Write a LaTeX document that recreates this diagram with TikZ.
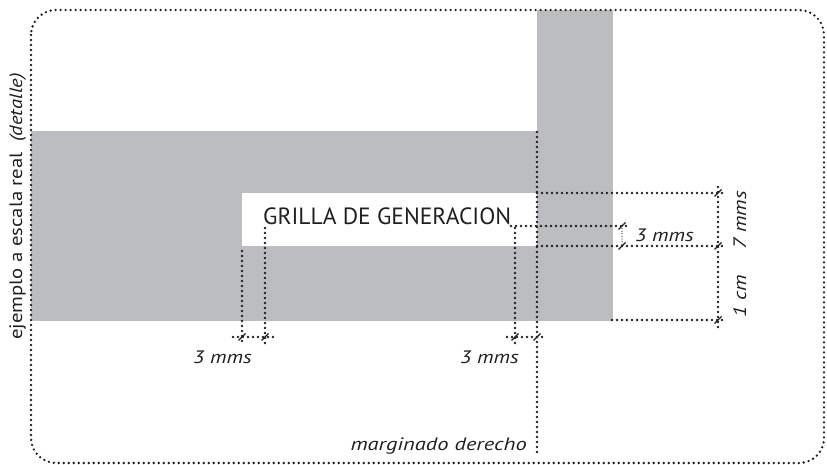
\documentclass[tikz,border=0pt]{standalone}
\usepackage{fontspec}
\usepackage{graphicx}
\setmainfont{PT Sans}
\definecolor{bandgray}{RGB}{188,189,192}
\definecolor{ink}{RGB}{35,31,32}
\newcommand{\wide}[2]{\scalebox{#1}[1]{#2}}
\begin{document}
\begin{tikzpicture}[x=1pt,y=-1pt,
  dots/.style={draw=ink, line width=2.6pt, dash pattern=on 0pt off 5pt, line cap=round},
  thindots/.style={draw=ink, line width=1.2pt, dash pattern=on 0pt off 2.6pt, line cap=round},
  tickmark/.style={draw=ink, line width=1.3pt},
  lbl/.style={font=\itshape\fontsize{18}{18}\selectfont, text=ink, inner sep=0pt},
  band/.style={fill=bandgray, draw=none}
]
\useasboundingbox (0,0) rectangle (827,465);
% gray bands
\fill[band] (31,131) rectangle (613,321);
\fill[band] (537,10) rectangle (613,321);
\fill[white] (242,193) rectangle (537,246);
% outer border
\draw[dots, rounded corners=25pt] (31,10) rectangle (824,463);
% title
\node[anchor=base west, inner sep=0pt, font=\fontsize{23.5}{23.5}\selectfont, text=ink] (title) at (263,225) {GRILLA DE GENERACION};
% coordinates
\coordinate (m1) at (537,132);
\coordinate (m2) at (537,455);
\coordinate (r1a) at (537,193);
\coordinate (r1b) at (724,193);
\coordinate (r2a) at (537,246);
\coordinate (r2b) at (724,246);
\coordinate (r3a) at (612,320);
\coordinate (r3b) at (724,320);
\coordinate (v1a) at (718,187);
\coordinate (v1b) at (718,327);
\coordinate (h3a) at (511,226);
\coordinate (h3b) at (626,226);
\coordinate (s1a) at (622,226);
\coordinate (s1b) at (622,246);
\coordinate (b1a) at (242,251);
\coordinate (b1b) at (242,345);
\coordinate (b2a) at (265,228);
\coordinate (b2b) at (265,347);
\coordinate (bh1a) at (233,337);
\coordinate (bh1b) at (273,337);
\coordinate (c1a) at (515,228);
\coordinate (c1b) at (515,345);
\coordinate (ch1a) at (507,337);
\coordinate (ch1b) at (546,337);
% dotted lines
\draw[dots] (m1) -- (m2);
\draw[dots] (r1a) -- (r1b);
\draw[dots] (r2a) -- (r2b);
\draw[dots] (r3a) -- (r3b);
\draw[dots] (v1a) -- (v1b);
\draw[dots] (h3a) -- (h3b);
\draw[thindots] (s1a) -- (s1b);
\draw[dots] (b1a) -- (b1b);
\draw[dots] (b2a) -- (b2b);
\draw[dots] (bh1a) -- (bh1b);
\draw[dots] (c1a) -- (c1b);
\draw[dots] (ch1a) -- (ch1b);
% tick marks
\foreach \tx/\ty in {718/193,718/246,718/320,622/226,622/246,242/337,265/337,515/337,537/337}{
  \draw[tickmark] (\tx-3.5,\ty+3.5) -- (\tx+3.5,\ty-3.5);
}
% labels
\node[lbl, anchor=base west] (l3a) at (193,363) {\wide{1.2}{3 mms}};
\node[lbl, anchor=base east] (l3b) at (519,363) {\wide{1.2}{3 mms}};
\node[lbl, anchor=base west] (l3c) at (635,241) {\wide{1.2}{3 mms}};
\node[lbl, anchor=base west, rotate=90] (l7) at (746,250) {\wide{1.2}{7 mms}};
\node[lbl, anchor=base west, rotate=90] (l1) at (746,318) {\wide{1.2}{1 cm}};
\node[lbl, anchor=base east] (lmd) at (527,450) {\wide{1.25}{marginado derecho}};
\node[anchor=base west, rotate=90, inner sep=0pt, font=\fontsize{18}{18}\selectfont, text=ink] (side) at (22,340) {\wide{1.15}{ejemplo a escala real\ \ \textit{(detalle)}}};
\end{tikzpicture}
\end{document}
